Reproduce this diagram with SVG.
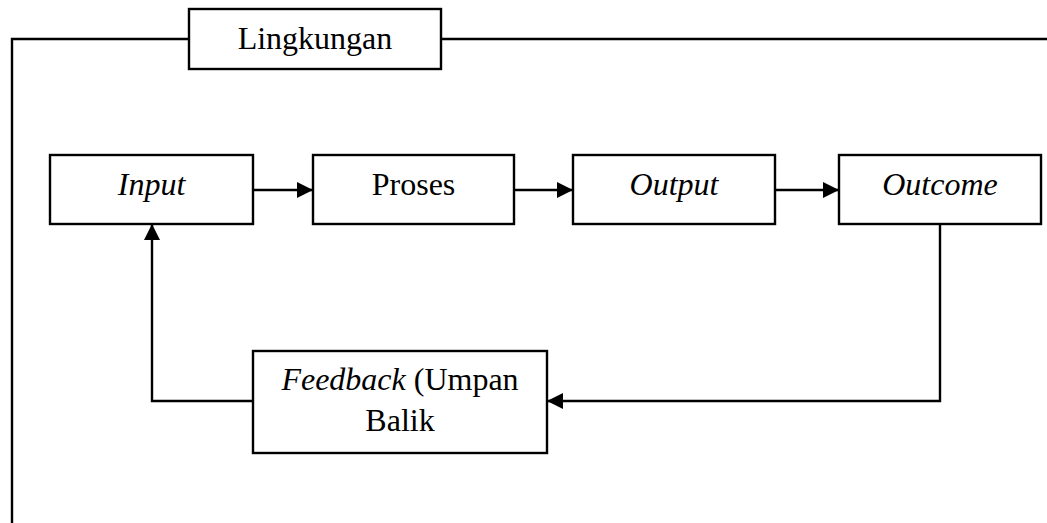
<svg xmlns="http://www.w3.org/2000/svg" width="1047" height="523" viewBox="0 0 1047 523">
  <style>
    .box { fill: #ffffff; stroke: #000000; stroke-width: 2.4; }
    .line { fill: none; stroke: #000000; stroke-width: 2.4; }
    .label { font-family: "Liberation Serif", "Times New Roman", serif; font-size: 32px; fill: #000000; text-anchor: middle; }
    .it { font-style: italic; }
  </style>
  <defs>
    <marker id="arrow" markerUnits="userSpaceOnUse" markerWidth="16" markerHeight="16" refX="16" refY="8" orient="auto">
      <path d="M0,0 L16,8 L0,16 Z" fill="#000000"/>
    </marker>
  </defs>

  <!-- environment boundary -->
  <g id="boundary">
    <path class="line" d="M189,39 H12 V523"/>
    <path class="line" d="M441,39 H1047"/>
  </g>

  <g id="lingkungan">
    <rect class="box" x="189" y="9" width="252" height="60"/>
    <text class="label" x="315" y="49">Lingkungan</text>
  </g>

  <g id="input">
    <rect class="box" x="50" y="155" width="203" height="69"/>
    <text class="label it" x="151.5" y="195">Input</text>
  </g>

  <g id="proses">
    <rect class="box" x="313" y="155" width="201" height="69"/>
    <text class="label" x="413.5" y="195">Proses</text>
  </g>

  <g id="output">
    <rect class="box" x="573" y="155" width="202" height="69"/>
    <text class="label it" x="674" y="195">Output</text>
  </g>

  <g id="outcome">
    <rect class="box" x="839" y="155" width="202" height="69"/>
    <text class="label it" x="940" y="195">Outcome</text>
  </g>

  <g id="feedback">
    <rect class="box" x="253" y="351" width="294" height="102"/>
    <text class="label" x="400" y="390"><tspan class="it">Feedback</tspan> (Umpan</text>
    <text class="label" x="400" y="431">Balik</text>
  </g>

  <g id="connectors">
    <path class="line" d="M253,190 H313" marker-end="url(#arrow)"/>
    <path class="line" d="M514,190 H573" marker-end="url(#arrow)"/>
    <path class="line" d="M775,190 H839" marker-end="url(#arrow)"/>
    <path class="line" d="M940,224 V401 H547" marker-end="url(#arrow)"/>
    <path class="line" d="M253,401 H152 V224" marker-end="url(#arrow)"/>
  </g>
</svg>
